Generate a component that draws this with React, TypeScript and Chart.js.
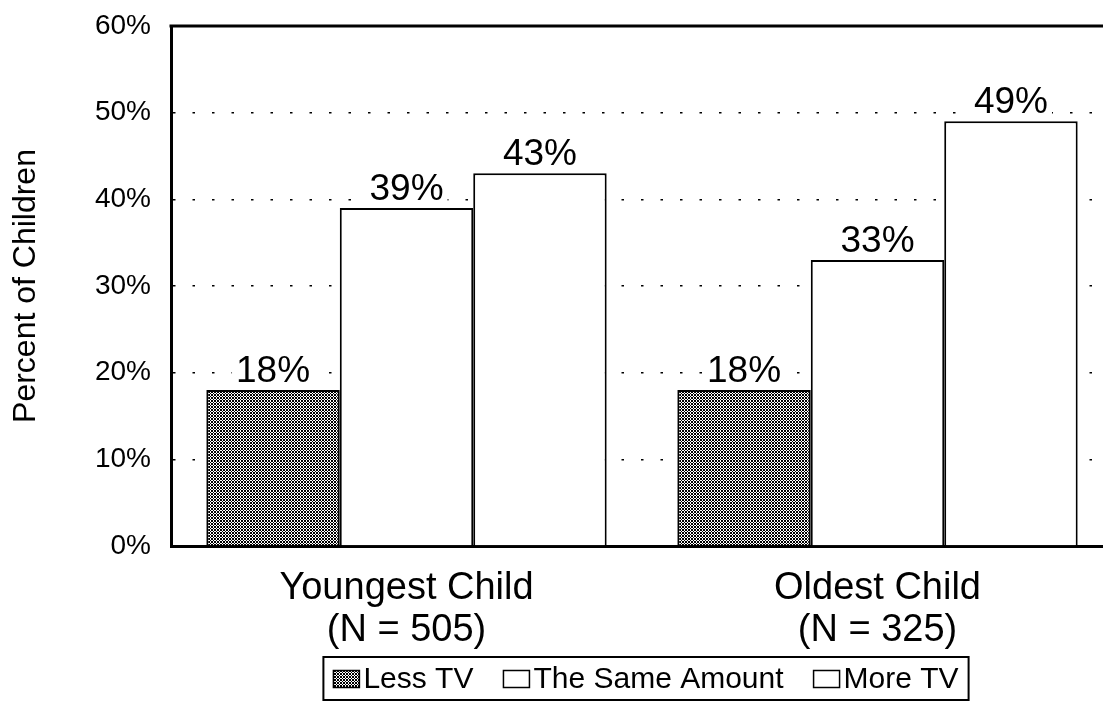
import React, { useEffect, useRef } from "react";
import { Chart, registerables } from "chart.js";

Chart.register(...registerables);

const categories: string[][] = [
  ["Youngest Child", "(N = 505)"],
  ["Oldest Child", "(N = 325)"],
];
const seriesNames = ["Less TV", "The Same Amount", "More TV"];
const lessTV = [18, 18];
const sameAmount = [39, 33];
const moreTV = [43, 49];
const yTicks = [0, 10, 20, 30, 40, 50, 60];

const FONT = "Arial, 'Liberation Sans', Helvetica, sans-serif";
const CANVAS_W = 1113;
const CANVAS_H = 701;

function makeHatch(): CanvasPattern | string {
  const c = document.createElement("canvas");
  c.width = 3;
  c.height = 3;
  const g = c.getContext("2d");
  if (!g) return "#777";
  g.fillStyle = "#fff";
  g.fillRect(0, 0, 3, 3);
  g.fillStyle = "#000";
  for (let y = 0; y < 3; y++)
    for (let x = 0; x < 3; x++)
      if ((x + y) % 3 === 0 || (x - y + 3) % 3 === 0) g.fillRect(x, y, 1, 1);
  return g.createPattern(c, "repeat") || "#777";
}

const topBorderPlugin = {
  id: "topBorder",
  beforeDatasetsDraw(chart: any) {
    const { ctx, chartArea } = chart;
    ctx.save();
    ctx.strokeStyle = "#000";
    ctx.lineWidth = 3;
    ctx.beginPath();
    ctx.moveTo(chartArea.left - 1.5, chartArea.top);
    ctx.lineTo(chartArea.right, chartArea.top);
    ctx.stroke();
    ctx.restore();
  },
};

const valueLabelPlugin = {
  id: "valueLabels",
  afterDatasetsDraw(chart: any) {
    const ctx = chart.ctx;
    ctx.save();
    ctx.font = `37px ${FONT}`;
    ctx.textAlign = "center";
    ctx.textBaseline = "alphabetic";
    chart.data.datasets.forEach((ds: any, i: number) => {
      const meta = chart.getDatasetMeta(i);
      meta.data.forEach((el: any, j: number) => {
        const txt = `${ds.data[j]}%`;
        const w = ctx.measureText(txt).width;
        const base = el.y - 8;
        ctx.fillStyle = "#fff";
        ctx.fillRect(el.x - w / 2 - 4, base - 29, w + 8, 30);
        ctx.fillStyle = "#000";
        ctx.fillText(txt, el.x, base);
      });
    });
    ctx.restore();
  },
};

const boxLegendPlugin = {
  id: "boxLegend",
  afterDraw(chart: any) {
    const ctx = chart.ctx;
    ctx.save();
    ctx.font = `30px ${FONT}`;
    const swW = 26;
    const swH = 17;
    const gapSw = 4;
    const gapItem = 30;
    const pad = 10;
    const items = chart.data.datasets.map((ds: any) => ({
      label: ds.label as string,
      fill: ds.backgroundColor,
      w: ctx.measureText(ds.label).width,
    }));
    const total =
      items.reduce((a: number, it: any) => a + swW + gapSw + it.w, 0) +
      gapItem * (items.length - 1) +
      pad * 2;
    const cx = 646;
    const top = 657;
    const h = 43;
    let x = cx - total / 2;
    ctx.fillStyle = "#fff";
    ctx.fillRect(x, top, total, h);
    ctx.strokeStyle = "#000";
    ctx.lineWidth = 2;
    ctx.strokeRect(x, top, total, h);
    x += pad;
    const midY = top + 22;
    for (const it of items) {
      ctx.fillStyle = it.fill;
      ctx.fillRect(x, midY - swH / 2, swW, swH);
      ctx.lineWidth = 1.5;
      ctx.strokeRect(x, midY - swH / 2, swW, swH);
      x += swW + gapSw;
      ctx.fillStyle = "#000";
      ctx.textAlign = "left";
      ctx.textBaseline = "middle";
      ctx.fillText(it.label, x, midY + 1);
      x += it.w + gapItem;
    }
    ctx.restore();
  },
};

export default function App() {
  const canvasRef = useRef<HTMLCanvasElement | null>(null);

  useEffect(() => {
    document.body.style.overflow = "hidden";
    const canvas = canvasRef.current;
    if (!canvas) return;
    const hatch = makeHatch();
    const chart = new Chart(canvas, {
      type: "bar",
      data: {
        labels: categories,
        datasets: [
          {
            label: seriesNames[0],
            data: lessTV,
            backgroundColor: hatch as any,
            borderColor: "#000",
            borderWidth: 2,
          },
          {
            label: seriesNames[1],
            data: sameAmount,
            backgroundColor: "#fff",
            borderColor: "#000",
            borderWidth: 2,
          },
          {
            label: seriesNames[2],
            data: moreTV,
            backgroundColor: "#fff",
            borderColor: "#000",
            borderWidth: 2,
          },
        ],
      },
      options: {
        responsive: false,
        animation: false,
        devicePixelRatio: 1,
        layout: { padding: { top: 26, left: 0, right: 0, bottom: 0 } },
        datasets: {
          bar: { categoryPercentage: 0.85, barPercentage: 1.0 },
        },
        plugins: {
          legend: { display: false },
          tooltip: { enabled: false },
        },
        scales: {
          x: {
            grid: { display: false, drawTicks: false },
            border: { display: true, color: "#000", width: 3 },
            ticks: {
              color: "#000",
              font: { family: FONT, size: 38, lineHeight: 1.1 },
              padding: 22,
              maxRotation: 0,
              autoSkip: false,
            },
            afterFit(scale: any) {
              scale.height = 155;
            },
          },
          y: {
            min: 0,
            max: 60,
            afterBuildTicks(scale: any) {
              scale.ticks = yTicks.map((v) => ({ value: v }));
            },
            grid: {
              color: (c: any) =>
                c.tick && (c.tick.value === 0 || c.tick.value === 60)
                  ? "rgba(0,0,0,0)"
                  : "#000",
              lineWidth: 1.6,
              drawTicks: false,
            },
            border: { display: true, color: "#000", width: 3, dash: [2.5, 17] },
            ticks: {
              color: "#000",
              font: { family: FONT, size: 28 },
              padding: 20,
              callback: (v: any) => `${v}%`,
            },
            title: {
              display: true,
              text: "Percent of Children",
              color: "#000",
              font: { family: FONT, size: 32 },
              padding: { top: 7, bottom: 0 },
            },
            afterFit(scale: any) {
              scale.width = 171;
              scale.paddingTop = 10;
              scale.paddingBottom = 10;
            },
          },
        },
      },
      plugins: [topBorderPlugin, valueLabelPlugin, boxLegendPlugin],
    });
    return () => {
      chart.destroy();
    };
  }, []);

  return (
    <div
      style={{
        position: "fixed",
        left: 0,
        top: 0,
        width: CANVAS_W,
        height: CANVAS_H,
        background: "#fff",
      }}
    >
      <canvas ref={canvasRef} width={CANVAS_W} height={CANVAS_H} />
    </div>
  );
}
